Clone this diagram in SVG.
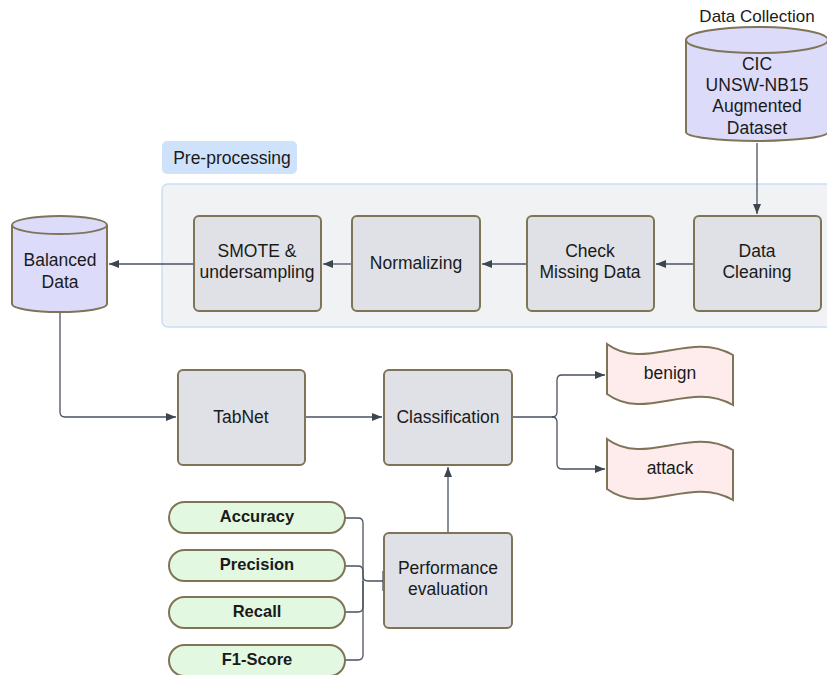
<svg xmlns="http://www.w3.org/2000/svg" width="827" height="675" viewBox="0 0 827 675">
<defs>
<style>
text{font-family:"Liberation Sans",Arial,sans-serif;font-size:17.5px;fill:#1a1a1a;text-anchor:middle}
.box{fill:#dfe1e6;stroke:#7f7458;stroke-width:2}
.cyl{fill:#dcdcfa;stroke:#7f7458;stroke-width:2}
.pill{fill:#e3f8e0;stroke:#7f7458;stroke-width:2}
.flag{fill:#fdeceb;stroke:#7f7458;stroke-width:2}
.pt{font-weight:bold;font-size:16.5px}
.con{fill:none;stroke:#4a5260;stroke-width:1.3}
</style>
<marker id="ah" viewBox="0 0 10 10" refX="10" refY="5" markerWidth="10" markerHeight="10" markerUnits="userSpaceOnUse" orient="auto">
<path d="M0,1 L10,5 L0,9 Z" fill="#3d4550"/>
</marker>
</defs>
<rect width="827" height="675" fill="#ffffff"/>

<g id="preprocessing-group">
<rect x="162" y="184" width="672" height="143" rx="6" fill="#f1f2f4" stroke="#c9ddf8" stroke-width="1.5"/>
<rect x="162" y="141" width="135" height="33" rx="5" fill="#cfe2fc"/>
<text x="232" y="164">Pre-processing</text>
</g>

<g id="connectors">
<path class="con" d="M757,143 V214" marker-end="url(#ah)"/>
<path class="con" d="M694,264 H656" marker-end="url(#ah)"/>
<path class="con" d="M527,264 H482" marker-end="url(#ah)"/>
<path class="con" d="M352,264 H323" marker-end="url(#ah)"/>
<path class="con" d="M194,264 H109" marker-end="url(#ah)"/>
<path class="con" d="M60,312 V412 Q60,417 65,417 H176" marker-end="url(#ah)"/>
<path class="con" d="M305,417 H382" marker-end="url(#ah)"/>
<path class="con" d="M512,417 H552 Q557,417 557,412 V380 Q557,375 562,375 H605" marker-end="url(#ah)"/>
<path class="con" d="M552,417 Q557,417 557,422 V464 Q557,469 562,469 H605" marker-end="url(#ah)"/>
<path class="con" d="M448,533 V467" marker-end="url(#ah)"/>
<path class="con" d="M345,518 H358 Q363,518 363,523 V576 Q363,581 368,581 H384"/>
<path class="con" d="M345,566 H358 Q363,566 363,571 V581"/>
<path class="con" d="M345,612 H358 Q363,612 363,607 V581"/>
<path class="con" d="M345,660 H358 Q363,660 363,655 V581"/>
<path class="con" d="M383,571 V591" stroke-width="2"/>
</g>

<g id="data-collection">
<text x="757" y="22" style="font-size:17px">Data Collection</text>
<path class="cyl" d="M686,40 V132 A71,9 0 0 0 828,132 V40 A71,13 0 0 0 686,40 Z"/>
<path class="cyl" d="M686,40 A71,13 0 0 0 828,40" fill="none"/>
<text x="757" y="70">CIC</text>
<text x="757" y="91">UNSW-NB15</text>
<text x="757" y="112">Augmented</text>
<text x="757" y="134">Dataset</text>
</g>

<g id="data-cleaning">
<rect class="box" x="694" y="216" width="127" height="95" rx="5"/>
<text x="757" y="257">Data</text>
<text x="757" y="278">Cleaning</text>
</g>

<g id="check-missing">
<rect class="box" x="527" y="216" width="127" height="95" rx="5"/>
<text x="590" y="257">Check</text>
<text x="590" y="278">Missing Data</text>
</g>

<g id="normalizing">
<rect class="box" x="352" y="216" width="128" height="95" rx="5"/>
<text x="416" y="269">Normalizing</text>
</g>

<g id="smote">
<rect class="box" x="194" y="216" width="127" height="95" rx="5"/>
<text x="257" y="257">SMOTE &amp;</text>
<text x="257" y="278">undersampling</text>
</g>

<g id="balanced-data">
<path class="cyl" d="M12,225 V304 A47.5,8 0 0 0 107,304 V225 A47.5,9 0 0 0 12,225 Z"/>
<path class="cyl" d="M12,225 A47.5,9 0 0 0 107,225" fill="none"/>
<text x="60" y="266">Balanced</text>
<text x="60" y="288">Data</text>
</g>

<g id="tabnet">
<rect class="box" x="178" y="370" width="127" height="95" rx="5"/>
<text x="241" y="423">TabNet</text>
</g>

<g id="classification">
<rect class="box" x="384" y="370" width="128" height="95" rx="5"/>
<text x="448" y="423">Classification</text>
</g>

<g id="benign">
<path class="flag" d="M607,344 C645,372 690,330 733,355 V405 C690,380 645,422 607,394 Z"/>
<text x="670" y="379">benign</text>
</g>

<g id="attack">
<path class="flag" d="M607,439 C645,467 690,425 733,450 V500 C690,475 645,517 607,489 Z"/>
<text x="670" y="474">attack</text>
</g>

<g id="performance">
<rect class="box" x="384" y="533" width="128" height="95" rx="5"/>
<text x="448" y="574">Performance</text>
<text x="448" y="595">evaluation</text>
</g>

<g id="accuracy">
<rect class="pill" x="169" y="502" width="176" height="31" rx="15.5"/>
<text class="pt" x="257" y="522">Accuracy</text>
</g>
<g id="precision">
<rect class="pill" x="169" y="550" width="176" height="31" rx="15.5"/>
<text class="pt" x="257" y="570">Precision</text>
</g>
<g id="recall">
<rect class="pill" x="169" y="597" width="176" height="31" rx="15.5"/>
<text class="pt" x="257" y="617">Recall</text>
</g>
<g id="f1-score">
<rect class="pill" x="169" y="645" width="176" height="31" rx="15.5"/>
<text class="pt" x="257" y="665">F1-Score</text>
</g>
</svg>
